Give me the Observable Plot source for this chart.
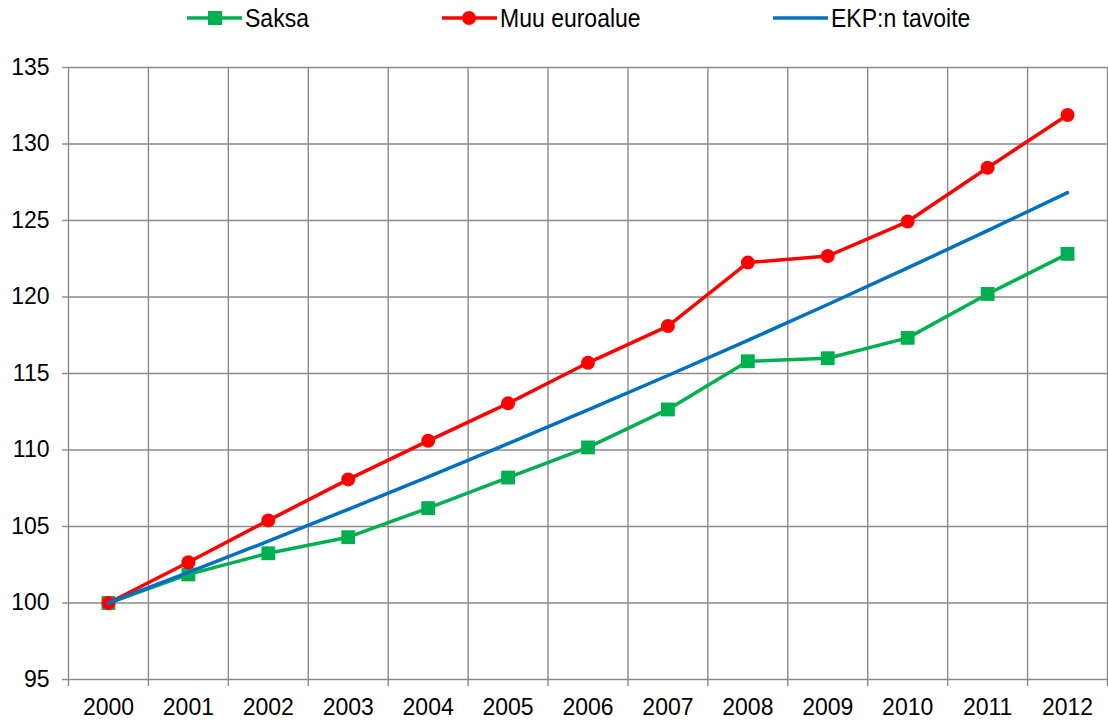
<!DOCTYPE html>
<html>
<head>
<meta charset="utf-8">
<script src="https://cdn.jsdelivr.net/npm/d3@7"></script>
<script src="https://cdn.jsdelivr.net/npm/@observablehq/plot@0.6"></script>
<style>
  html, body { margin: 0; padding: 0; background: #fff; }
  body { width: 1108px; height: 722px; overflow: hidden; font-family: "Liberation Sans", Arial, sans-serif; }
  #legend { position: relative; height: 36px; }
  .item { position: absolute; top: 0; height: 36px; display: flex; align-items: center; font-size: 23px; color: #000; }
  .item svg { display: block; margin-right: 3px; }
  .item span { display: inline-block; transform: scaleY(1.1); }
  #chart svg { display: block; }
</style>
</head>
<body>
<div id="legend"></div>
<div id="chart"></div>
<script>
// ---- data ----
const years = [2000, 2001, 2002, 2003, 2004, 2005, 2006, 2007, 2008, 2009, 2010, 2011, 2012];
const saksa = [100, 101.87, 103.25, 104.3, 106.2, 108.2, 110.17, 112.65, 115.8, 116.0, 117.33, 120.2, 122.82];
const muuEuroalue = [100, 102.66, 105.4, 108.08, 110.6, 113.05, 115.7, 118.1, 122.25, 122.68, 124.93, 128.45, 131.9];
const ekpTavoite = [100, 102, 104.04, 106.12, 108.24, 110.41, 112.62, 114.87, 117.17, 119.51, 121.9, 124.34, 126.82];
const yTicks = [95, 100, 105, 110, 115, 120, 125, 130, 135];
const seriesNames = ["Saksa", "Muu euroalue", "EKP:n tavoite"];
const seriesColors = ["#00B050", "#FF0000", "#0070C0"];

const rows = (vals) => years.map((y, i) => ({year: y, value: vals[i]}));
const dS = rows(saksa), dM = rows(muuEuroalue), dE = rows(ekpTavoite);
const gridX = years.map(y => y - 0.5).concat([years[years.length - 1] + 0.5]);

// ---- legend ----
const legendPos = [187, 442, 773];
const legend = document.getElementById("legend");
seriesNames.forEach((name, i) => {
  const div = document.createElement("div");
  div.className = "item";
  div.style.left = legendPos[i] + "px";
  const c = seriesColors[i];
  let marker = "";
  if (i === 0) marker = `<rect x="21" y="4" width="14" height="14" fill="${c}"/>`;
  if (i === 1) marker = `<circle cx="27" cy="11" r="7" fill="${c}"/>`;
  div.innerHTML = `<svg width="55" height="22"><line x1="0" x2="55" y1="11" y2="11" stroke="${c}" stroke-width="3.5"/>${marker}</svg><span>${name}</span>`;
  legend.appendChild(div);
});

// ---- chart ----
const grid = "#8a8a8a";
const plot = Plot.plot({
  width: 1108,
  height: 686,
  marginTop: 31,
  marginBottom: 43,
  marginLeft: 68,
  marginRight: 1,
  style: {fontFamily: "'Liberation Sans', Arial, sans-serif", fontSize: "23px", color: "#000", background: "#fff"},
  x: {type: "linear", domain: [1999.5, 2012.5]},
  y: {domain: [95, 135]},
  marks: [
    Plot.ruleY(yTicks, {stroke: grid, strokeWidth: 1.4}),
    Plot.ruleX(gridX, {y1: 95, y2: 135, stroke: grid, strokeWidth: 1.4}),
    Plot.axisY({ticks: yTicks, tickSize: 6, tickPadding: 13, stroke: grid, strokeWidth: 1.4, fontSize: 23, label: null, tickFormat: d => String(d)}),
    Plot.axisX({ticks: gridX, tickSize: 7, stroke: grid, strokeWidth: 1.4, tickFormat: () => "", label: null}),
    Plot.axisX({ticks: years, tickSize: 0, tickPadding: 19, fontSize: 23, label: null, tickFormat: d => String(d)}),
    Plot.line(dS, {x: "year", y: "value", stroke: seriesColors[0], strokeWidth: 3.5}),
    Plot.dot(dS, {x: "year", y: "value", symbol: "square", r: 7.8, fill: seriesColors[0], stroke: "none"}),
    Plot.line(dM, {x: "year", y: "value", stroke: seriesColors[1], strokeWidth: 3.5}),
    Plot.dot(dM, {x: "year", y: "value", r: 7, fill: seriesColors[1], stroke: "none"}),
    Plot.line(dE, {x: "year", y: "value", stroke: seriesColors[2], strokeWidth: 3.5})
  ]
});
document.getElementById("chart").appendChild(plot);
</script>
</body>
</html>
